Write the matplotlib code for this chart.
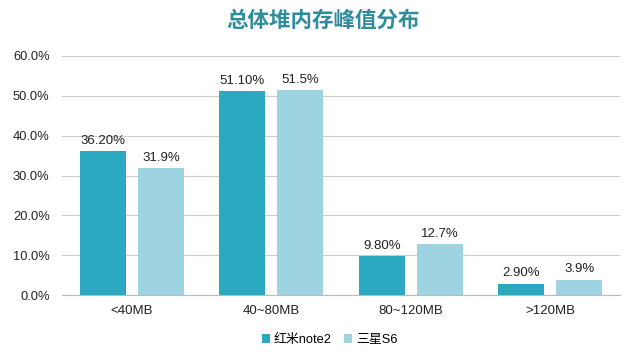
import matplotlib.pyplot as plt
import numpy as np

categories = ["<40MB", "40~80MB", "80~120MB", ">120MB"]
redmi = [36.2, 51.1, 9.8, 2.9]
samsung = [31.9, 51.5, 12.7, 3.9]
series_names = ["红米note2", "三星S6"]

plt.rcParams["font.family"] = ["Liberation Sans", "Noto Sans CJK SC", "DejaVu Sans"]

fig = plt.figure(figsize=(6.4, 3.56), dpi=100)
ax = fig.add_axes([0.097, 0.171, 0.872, 0.672])

x = np.arange(len(categories))
w = 0.33
off = 0.208
b1 = ax.bar(x - off, redmi, w, color="#2aa9c1", label=series_names[0], zorder=3)
b2 = ax.bar(x + off, samsung, w, color="#9ed3e1", label=series_names[1], zorder=3)

ax.bar_label(b1, labels=["%.2f%%" % v for v in redmi], padding=3, fontsize=9.5, color="#222222")
ax.bar_label(b2, labels=["%.1f%%" % v for v in samsung], padding=3, fontsize=9.5, color="#222222")

ax.set_xlim(-0.5, 3.5)
ax.set_ylim(0, 60)
ax.set_yticks(np.arange(0, 61, 10))
ax.set_yticklabels(["%.1f%%" % v for v in range(0, 61, 10)], fontsize=9.3, color="#222222")
ax.set_xticks(x)
ax.set_xticklabels(categories, fontsize=9.5, color="#222222")
ax.tick_params(length=0)
ax.tick_params(axis="y", pad=9)
ax.tick_params(axis="x", pad=7)
ax.grid(axis="y", color="#cccccc", linewidth=0.8, zorder=0)
for s in ["top", "right", "left"]:
    ax.spines[s].set_visible(False)
ax.spines["bottom"].set_color("#bbbbbb")

fig.text(0.505, 0.94, "总体堆内存峰值分布", ha="center", va="center",
         fontsize=15.5, fontweight="bold", color="#2e8d9c")

fig.legend(loc="center", bbox_to_anchor=(0.515, 0.045), ncol=2, frameon=False,
           fontsize=9.3, handlelength=0.6, handleheight=0.6, handletextpad=0.3,
           columnspacing=1.0)

fig.savefig("out.png", dpi=100)
